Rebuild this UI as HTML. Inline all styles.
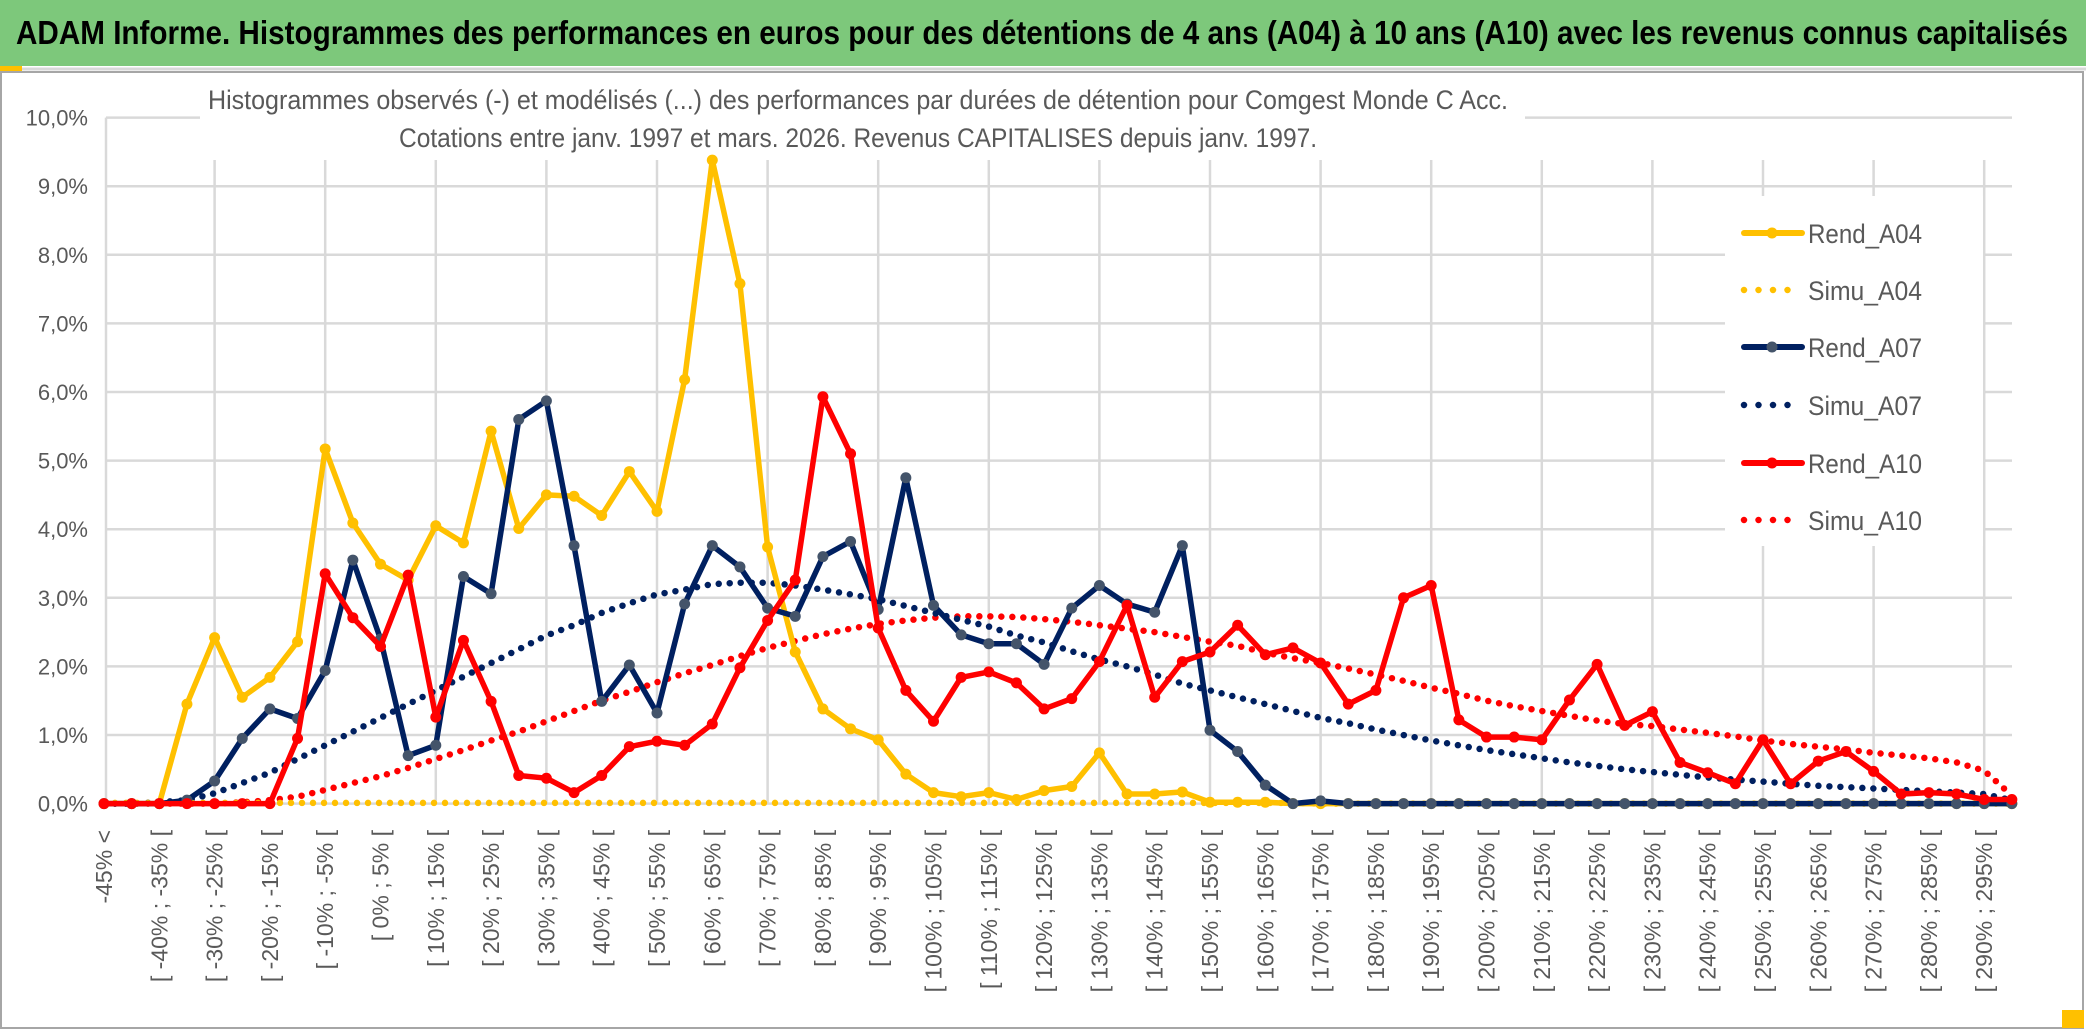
<!DOCTYPE html>
<html><head><meta charset="utf-8"><style>
html,body{margin:0;padding:0;background:#fff;}
svg{display:block;}
text{font-family:"Liberation Sans Narrow","Liberation Sans",sans-serif;}
</style></head><body>
<svg id="chart" width="2086" height="1031" viewBox="0 0 2086 1031" xmlns="http://www.w3.org/2000/svg">
<rect x="0" y="0" width="2086" height="1031" fill="#fff"/>
<rect x="0" y="0" width="2086" height="66" fill="#7dc87b"/>
<rect x="0" y="66" width="22" height="5" fill="#ffc000"/>
<line x1="22" y1="69" x2="2086" y2="69" stroke="#d9d9d9" stroke-width="3"/>
<text x="16" y="44" font-size="33" font-weight="bold" fill="#000" textLength="2052" lengthAdjust="spacingAndGlyphs">ADAM Informe. Histogrammes des performances en euros pour des détentions de 4 ans (A04) à 10 ans (A10) avec les revenus connus capitalisés</text>
<rect x="1" y="72" width="2082" height="956" fill="none" stroke="#a6a6a6" stroke-width="2"/>
<rect x="2062" y="1010" width="22" height="18" fill="#ffc000"/>
<g id="grid"></g>
<rect x="200" y="74" width="1325" height="86" fill="#fff"/>
<text x="858" y="109" font-size="27" fill="#595959" text-anchor="middle" textLength="1300" lengthAdjust="spacingAndGlyphs">Histogrammes observés (-) et modélisés (...) des performances par durées de détention pour Comgest Monde C Acc.</text>
<text x="858" y="147" font-size="27" fill="#595959" text-anchor="middle" textLength="918" lengthAdjust="spacingAndGlyphs">Cotations entre janv. 1997 et mars. 2026. Revenus CAPITALISES depuis janv. 1997.</text>
<g id="yaxis"></g>
<g id="xaxis"></g>
<g id="series"></g>
<g id="legend"></g>
</svg>
<script>
const yTicks=[0,1,2,3,4,5,6,7,8,9,10];
const yTickLabels=["0,0%","1,0%","2,0%","3,0%","4,0%","5,0%","6,0%","7,0%","8,0%","9,0%","10,0%"];
const categories=(function(){const a=["-45% <"];for(let k=1;k<70;k++){const l=-45+5*(k-1);a.push("[ "+l+"% ; "+(l+5)+"% [");}return a;})();
const rendA04=[0,0,0,1.45,2.42,1.55,1.84,2.36,5.17,4.09,3.49,3.26,4.05,3.8,5.43,4.01,4.5,4.48,4.2,4.84,4.26,6.18,9.38,7.58,3.74,2.21,1.38,1.09,0.93,0.43,0.16,0.1,0.16,0.06,0.19,0.25,0.74,0.14,0.14,0.17,0.02,0.02,0.02,0,0,0,0,0,0,0,0,0,0,0,0,0,0,0,0,0,0,0,0,0,0,0,0,0,0,0];
const simuA04=[0.01,0.01,0.01,0.01,0.01,0.01,0.01,0.01,0.01,0.01,0.01,0.01,0.01,0.01,0.01,0.01,0.01,0.01,0.01,0.01,0.01,0.01,0.01,0.01,0.01,0.01,0.01,0.01,0.01,0.01,0.01,0.01,0.01,0.01,0.01,0.01,0.01,0.01,0.01,0.01,0.01,0.01,0.01,0.01,0,0,0,0,0,0,0,0,0,0,0,0,0,0,0,0,0,0,0,0,0,0,0,0,0,0];
const rendA07=[0,0,0,0.05,0.33,0.95,1.38,1.24,1.94,3.55,2.4,0.7,0.85,3.31,3.06,5.6,5.87,3.76,1.49,2.02,1.32,2.91,3.76,3.45,2.85,2.73,3.6,3.82,2.83,4.75,2.89,2.46,2.33,2.33,2.03,2.85,3.18,2.91,2.79,3.76,1.07,0.76,0.27,0,0.04,0,0,0,0,0,0,0,0,0,0,0,0,0,0,0,0,0,0,0,0,0,0,0,0,0];
const simuA07=[0,0,0.02,0.05,0.15,0.3,0.45,0.65,0.85,1.05,1.25,1.45,1.65,1.85,2.05,2.25,2.45,2.6,2.78,2.92,3.05,3.12,3.2,3.22,3.22,3.18,3.12,3.05,2.98,2.88,2.78,2.68,2.58,2.45,2.35,2.22,2.1,2.0,1.88,1.75,1.65,1.55,1.45,1.35,1.25,1.17,1.08,1.0,0.92,0.85,0.78,0.72,0.66,0.6,0.55,0.5,0.46,0.42,0.38,0.35,0.32,0.29,0.26,0.24,0.22,0.2,0.18,0.16,0.14,0.05];
const rendA10=[0,0,0,0,0,0,0,0.95,3.35,2.71,2.29,3.33,1.26,2.38,1.49,0.41,0.37,0.16,0.41,0.83,0.91,0.85,1.16,1.98,2.67,3.26,5.93,5.1,2.56,1.65,1.2,1.84,1.92,1.76,1.38,1.53,2.07,2.89,1.55,2.07,2.21,2.6,2.17,2.27,2.05,1.45,1.65,3.0,3.18,1.22,0.97,0.97,0.93,1.51,2.03,1.14,1.34,0.6,0.45,0.29,0.93,0.29,0.62,0.76,0.47,0.14,0.16,0.14,0.06,0.06];
const simuA10=[0,0,0,0,0,0.02,0.05,0.1,0.2,0.3,0.4,0.52,0.65,0.78,0.92,1.05,1.2,1.35,1.5,1.63,1.77,1.9,2.02,2.15,2.27,2.37,2.47,2.55,2.62,2.67,2.71,2.73,2.73,2.72,2.69,2.65,2.6,2.55,2.5,2.43,2.36,2.3,2.2,2.12,2.05,1.97,1.88,1.79,1.69,1.6,1.5,1.42,1.35,1.28,1.21,1.16,1.13,1.08,1.03,0.98,0.92,0.87,0.83,0.79,0.74,0.7,0.66,0.6,0.48,0.12];
const seriesNames=["Rend_A04","Simu_A04","Rend_A07","Simu_A07","Rend_A10","Simu_A10"];

const NS="http://www.w3.org/2000/svg";
const X0=104,DX=27.65,Y0=803.6,PY=68.6;
function xs(i){return X0+DX*i;}
function ys(v){return Y0-PY*v;}
function mk(tag,attrs,parent){const e=document.createElementNS(NS,tag);for(const k in attrs)e.setAttribute(k,attrs[k]);parent.appendChild(e);return e;}

const grid=document.getElementById('grid');
yTicks.forEach(function(t){
  const l=mk('line',{x1:106,x2:2012,y1:ys(t),y2:ys(t),stroke:'#d9d9d9','stroke-width':2.5},grid);
  
  
});
for(let i=4;i<categories.length;i+=4){
  const l=mk('line',{x1:xs(i),x2:xs(i),y1:160,y2:Y0,stroke:'#d9d9d9','stroke-width':2.5},grid);
  
  
}
const ax=mk('line',{x1:106,x2:106,y1:ys(10),y2:Y0,stroke:'#d9d9d9','stroke-width':2.5},grid);



const yaxis=document.getElementById('yaxis');
yTicks.forEach(function(t,k){
  const tx=mk('text',{x:88,y:ys(t)+8,'font-size':22,fill:'#595959','text-anchor':'end'},yaxis);
  tx.textContent=yTickLabels[k];
  
  
});
const xaxis=document.getElementById('xaxis');
categories.forEach(function(c,i){
  if(i%2!==0)return;
  const tx=mk('text',{x:0,y:0,'font-size':23,fill:'#595959','text-anchor':'end',transform:'translate('+(xs(i)+8)+',830) rotate(-90)'},xaxis);
  tx.textContent=c;
  
  
});

const series=document.getElementById('series');
function pts(arr){return arr.map(function(v,i){return xs(i).toFixed(1)+','+ys(v).toFixed(1);}).join(' ');}
function dotted(arr,color,name){
  const p=mk('polyline',{points:pts(arr),fill:'none',stroke:color,'stroke-width':6.5,'stroke-linecap':'round','stroke-dasharray':'0 11'},series);
  
  
}
function solid(arr,color,mcolor,name){
  const p=mk('polyline',{points:pts(arr),fill:'none',stroke:color,'stroke-width':5.5,'stroke-linejoin':'round'},series);
  
  
  arr.forEach(function(v,i){
    const c=mk('circle',{cx:xs(i),cy:ys(v),r:5.5,fill:mcolor},series);
    
    
  });
}
dotted(simuA10,'#ff0000','simu-a10-line');
dotted(simuA07,'#002060','simu-a07-line');
dotted(simuA04,'#ffc000','simu-a04-line');
solid(rendA04,'#ffc000','#ffc000','rend-a04-line');
solid(rendA07,'#002060','#44546a','rend-a07-line');
solid(rendA10,'#ff0000','#ff0000','rend-a10-line');

const legend=document.getElementById('legend');
const lb=mk('rect',{x:1725,y:196,width:258,height:350,fill:'#fff'},legend);


const lcol=['#ffc000','#ffc000','#002060','#002060','#ff0000','#ff0000'];
const lmk=['#ffc000',null,'#44546a',null,'#ff0000',null];
const lys=[233,290,347,405,463,520];
seriesNames.forEach(function(n,k){
  const y=lys[k];
  if(k%2===0){
    const l=mk('line',{x1:1744,x2:1802,y1:y,y2:y,stroke:lcol[k],'stroke-width':6,'stroke-linecap':'round'},legend);
    
    
    const c=mk('circle',{cx:1772,cy:y,r:5.5,fill:lmk[k]},legend);
    
    
  } else {
    const l=mk('line',{x1:1744,x2:1802,y1:y,y2:y,stroke:lcol[k],'stroke-width':6.5,'stroke-linecap':'round','stroke-dasharray':'0 14.5'},legend);
    
    
  }
  const t=mk('text',{x:1808,y:y+10,'font-size':27,fill:'#595959',textLength:114,lengthAdjust:'spacingAndGlyphs'},legend);
  t.textContent=n;
  
  
});
</script>
</body></html>
